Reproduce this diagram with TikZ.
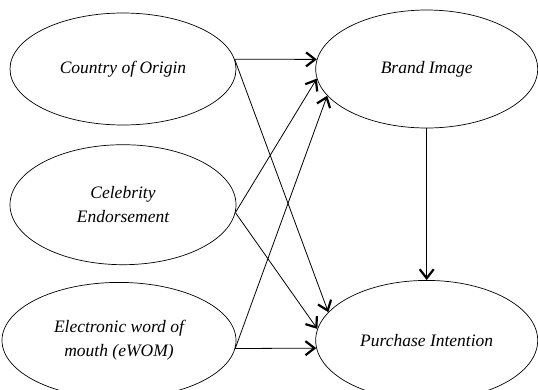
\documentclass[tikz,border=0pt]{standalone}
\usepackage{fontspec}
\setmainfont{Liberation Serif}
\usetikzlibrary{positioning, arrows.meta, shapes.geometric}

\begin{document}
\begin{tikzpicture}[
    >={Straight Barb[length=9pt, width=14pt, line width=2.2pt]}, % punta abierta y gruesa
    constructo/.style={draw, ellipse, line width=0.7pt, inner sep=0pt,
        minimum width=226pt, minimum height=116pt, align=center,
        font=\fontsize{17.5}{24}\selectfont\itshape},
    flecha/.style={->, line width=0.8pt}
]
    \useasboundingbox (0pt,0pt) rectangle (538pt,-389pt);

    % 1. Constructos de la izquierda
    \node[constructo, minimum height=112pt] (coo) at (123pt,-69pt) {Country of Origin};
    \node[constructo, minimum height=120pt, below=19pt of coo] (cel) {Celebrity\\Endorsement};
    \node[constructo, minimum width=234pt, below=17pt of cel, xshift=-4pt] (ewom) {Electronic word of\\mouth (eWOM)};

    % 2. Constructos de la derecha
    \node[constructo, minimum width=222pt, minimum height=118pt, right=79pt of coo] (bi) {Brand Image};
    \node[constructo, minimum width=222pt, minimum height=120pt, right=79pt of ewom] (pi) {Purchase Intention};

    % 3. Relaciones hacia Brand Image
    \draw[flecha] (coo.5) -- (bi.175);
    \draw[flecha] (cel.-4) -- (bi.185);
    \draw[flecha] (ewom.-4) -- (bi.195);

    % 4. Relaciones hacia Purchase Intention
    \draw[flecha] (coo.5) -- (pi.164);
    \draw[flecha] (cel.-4) -- (pi.174);
    \draw[flecha] (ewom.-4) -- (pi.184);
    \draw[flecha] (bi.south) -- (pi.north);

\end{tikzpicture}
\end{document}
